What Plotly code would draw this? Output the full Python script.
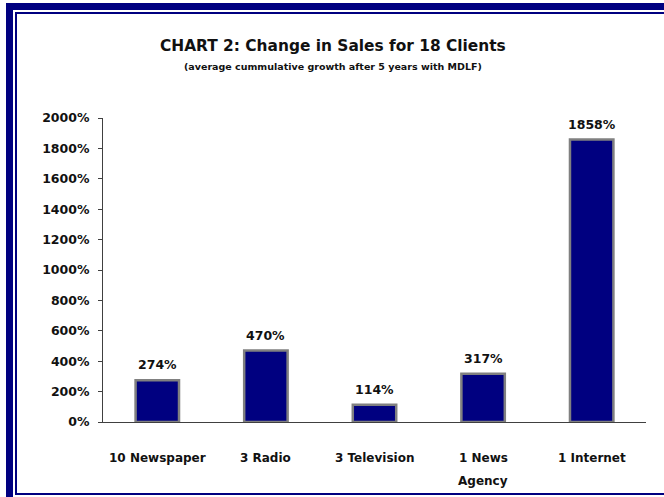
import plotly.graph_objects as go

categories = ["10 Newspaper", "3 Radio", "3 Television", "1 News Agency", "1 Internet"]
label_lines = [["10 Newspaper"], ["3 Radio"], ["3 Television"], ["1 News", "Agency"], ["1 Internet"]]
values = [274, 470, 114, 317, 1858]
tick_vals = list(range(0, 2001, 200))
tick_text = [f"{v}%" for v in tick_vals]

W, H = 664, 497
L, R, T, B = 103, 646, 118, 422  # plot area pixels

def px(x):
    return (x - L) / (R - L)

def py(y):
    return (B - y) / (B - T)

FONT = "DejaVu Sans"
NAVY = "#000080"

fig = go.Figure()
fig.add_trace(go.Bar(
    x=categories, y=values,
    marker=dict(color=NAVY, line=dict(color="#808080", width=2.5)),
    hoverinfo="skip",
))

ann = []
for c, v in zip(categories, values):
    ann.append(dict(x=c, y=v, xref="x", yref="y", text=f"<b>{v}%</b>",
                    showarrow=False, yanchor="middle", yshift=15.5,
                    font=dict(family=FONT, size=12.5, color="#111")))
for c, lines in zip(categories, label_lines):
    for i, t in enumerate(lines):
        ann.append(dict(x=c, y=py(457.5 + 23 * i), xref="x", yref="paper",
                        text=f"<b>{t}</b>", showarrow=False, yanchor="middle",
                        font=dict(family=FONT, size=12, color="#111")))
ann.append(dict(x=px(332.5), y=py(46), xref="paper", yref="paper",
                text="<b>CHART 2: Change in Sales for 18 Clients</b>", showarrow=False,
                yanchor="middle", font=dict(family=FONT, size=15.4, color="#111")))
ann.append(dict(x=px(332.5), y=py(67), xref="paper", yref="paper",
                text="<b>(average cummulative growth after 5 years with MDLF)</b>", showarrow=False,
                yanchor="middle", font=dict(family=FONT, size=9.5, color="#111")))

def seg(x0, y0, x1, y1, w):
    return dict(type="line", xref="paper", yref="paper",
                x0=px(x0), y0=py(y0), x1=px(x1), y1=py(y1),
                line=dict(color=NAVY, width=w))

shapes = [
    # outer thick frame (left + top)
    seg(9.5, 3, 9.5, 520, 7),
    seg(6, 6.5, 700, 6.5, 7),
    # inner thin frame (left, top, bottom)
    seg(16, 12, 16, 495, 2),
    seg(15, 13, 700, 13, 2),
    seg(15, 494, 700, 494, 2),
]

fig.update_layout(
    width=W, height=H,
    margin=dict(l=L, r=W - R, t=T, b=H - B, pad=0),
    paper_bgcolor="white", plot_bgcolor="white",
    showlegend=False, bargap=0.6,
    annotations=ann, shapes=shapes,
    xaxis=dict(showticklabels=False, showline=True, linecolor="#404040", linewidth=1,
               ticks="", showgrid=False, zeroline=False, fixedrange=True),
    yaxis=dict(range=[0, 2000], tickvals=tick_vals,
               ticktext=[f"<b>{t}</b>" for t in tick_text],
               showline=True, linecolor="#404040", linewidth=1,
               ticks="outside", ticklen=4, tickcolor="#404040",
               ticklabelstandoff=6,
               showgrid=False, zeroline=False, fixedrange=True,
               tickfont=dict(family=FONT, size=12.5, color="#111")),
)

fig.write_html("out.html")
